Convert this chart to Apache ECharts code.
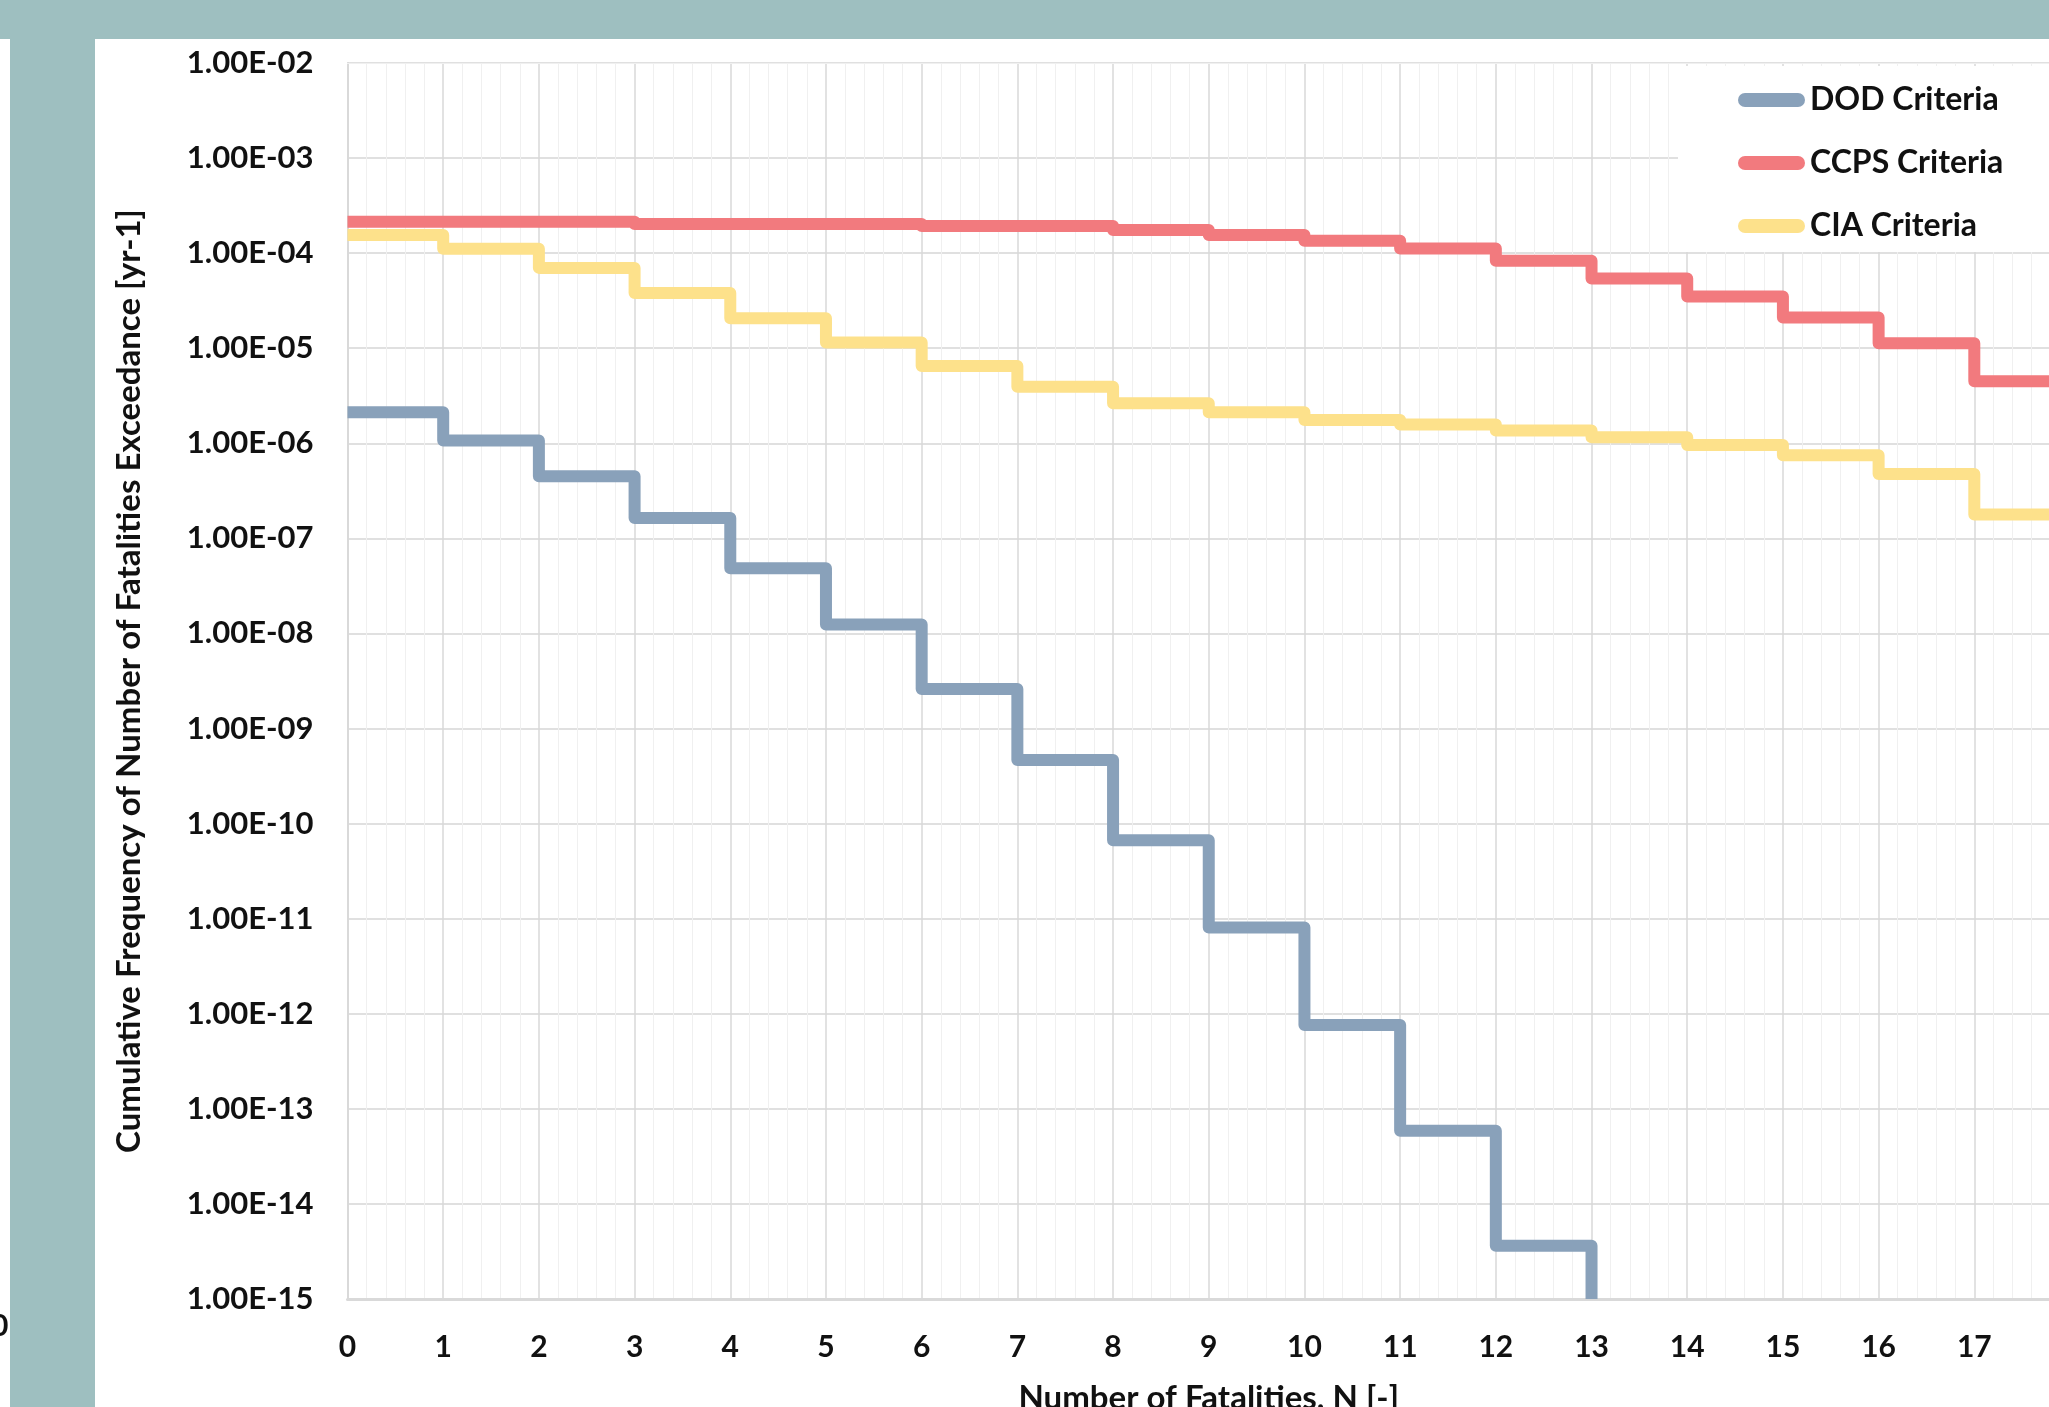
<!DOCTYPE html>
<html><head><meta charset="utf-8">
<script src="https://cdn.jsdelivr.net/npm/echarts@6/dist/echarts.min.js"></script>
<style>html,body{margin:0;padding:0;background:#fff}#c{width:2049px;height:1407px}</style>
</head><body><div id="c"></div>
<script>
// ---- data ----
const fatalities = [0,1,2,3,4,5,6,7,8,9,10,11,12,13,14,15,16,17,18];
const dodCriteria = [2.12e-6,1.07e-6,4.5e-7,1.64e-7,4.84e-8,1.24e-8,2.6e-9,4.67e-10,6.67e-11,8.1e-12,7.6e-13,5.9e-14,3.63e-15,1e-15];
const ccpsCriteria = [2.14e-4,2.14e-4,2.14e-4,2.03e-4,2.03e-4,2.03e-4,1.93e-4,1.93e-4,1.75e-4,1.55e-4,1.35e-4,1.12e-4,8.3e-5,5.4e-5,3.5e-5,2.1e-5,1.13e-5,4.5e-6,4.5e-6];
const ciaCriteria = [1.55e-4,1.11e-4,7.0e-5,3.8e-5,2.07e-5,1.15e-5,6.5e-6,3.94e-6,2.64e-6,2.12e-6,1.76e-6,1.58e-6,1.36e-6,1.16e-6,9.6e-7,7.5e-7,4.75e-7,1.78e-7,1.78e-7];
const seriesNames = ['DOD Criteria','CCPS Criteria','CIA Criteria'];
const seriesColors = ['#89a1ba','#f27a7e','#fde18b'];
const yTickValues = [1e-15,1e-14,1e-13,1e-12,1e-11,1e-10,1e-9,1e-8,1e-7,1e-6,1e-5,1e-4,1e-3,1e-2];
const yTickLabels = ['1.00E-15','1.00E-14','1.00E-13','1.00E-12','1.00E-11','1.00E-10','1.00E-09','1.00E-08','1.00E-07','1.00E-06','1.00E-05','1.00E-04','1.00E-03','1.00E-02'];
const xTitle = 'Number of Fatalities, N [-]';
const yTitle = 'Cumulative Frequency of Number of Fatalities Exceedance [yr-1]';

// minor log gridline positions (2..9 x 10^n)
const minorLogLines = [];
for (let n = -15; n <= -3; n++) for (let k = 2; k <= 9; k++) minorLogLines.push({yAxis: k * Math.pow(10, n)});

const FONT = 'Lato, "Open Sans", sans-serif';
const chart = echarts.init(document.getElementById('c'), null, {renderer: 'canvas'});
const pairs = arr => arr.map((v, i) => [fatalities[i], v]);
const mk = (name, arr, color) => ({
  name, type: 'line', step: 'end', data: pairs(arr), showSymbol: false, symbol: 'none',
  lineStyle: {width: 12, color, cap: 'butt', join: 'round'}, itemStyle: {color}, z: 5, clip: true
});

chart.setOption({
  animation: false,
  backgroundColor: '#ffffff',
  graphic: [
    {type: 'rect', left: 0, top: 0, shape: {width: 2049, height: 39}, style: {fill: '#9ebfc0'}, silent: true},
    {type: 'rect', left: 10, top: 39, shape: {width: 85, height: 1368}, style: {fill: '#9ebfc0'}, silent: true},
    {type: 'text', left: -9, top: 1311, style: {text: '0', font: 'bold 30px ' + FONT, fill: '#111'}, silent: true}
  ],
  grid: {left: 347.5, right: -21, top: 63, bottom: 108, containLabel: false, outerBoundsMode: 'none'},
  legend: {
    data: seriesNames, orient: 'vertical', left: 1678, top: 66,
    padding: [16, 400, 8, 60], itemGap: 27, itemWidth: 67, itemHeight: 14,
    icon: 'path://M7,0H60A7,7 0 0 1 60,14H7A7,7 0 0 1 7,0Z',
    backgroundColor: '#ffffff', selectedMode: false,
    textStyle: {fontFamily: FONT, fontWeight: 'bold', fontSize: 32, color: '#111', lineHeight: 36}
  },
  xAxis: {
    type: 'value', min: 0, max: 18, interval: 1,
    name: xTitle, nameLocation: 'middle', nameGap: 83,
    nameTextStyle: {fontFamily: FONT, fontWeight: 'bold', fontSize: 33, color: '#111'},
    axisLine: {show: true, lineStyle: {color: '#d9d9d9', width: 3}},
    axisTick: {show: false},
    axisLabel: {margin: 33, fontFamily: FONT, fontWeight: 'bold', fontSize: 30, color: '#111',
      formatter: v => String(fatalities[Math.round(v)])},
    splitLine: {show: true, lineStyle: {color: '#d9d9d9', width: 1.5}},
    minorTick: {show: false, splitNumber: 5},
    minorSplitLine: {show: true, lineStyle: {color: '#f0f0f0', width: 1}}
  },
  yAxis: {
    type: 'log', logBase: 10, min: 1e-15, max: 1e-2, interval: 1, splitNumber: 13,
    name: yTitle, nameLocation: 'middle', nameGap: 202,
    nameTextStyle: {fontFamily: FONT, fontWeight: 'bold', fontSize: 33, color: '#111'},
    axisLine: {show: true, lineStyle: {color: '#d9d9d9', width: 2}},
    axisTick: {show: false},
    axisLabel: {margin: 34, fontFamily: FONT, fontWeight: 'bold', fontSize: 31, color: '#111',
      formatter: v => { let best = 0; yTickValues.forEach((t, i) => { if (Math.abs(Math.log10(t) - Math.log10(v)) < Math.abs(Math.log10(yTickValues[best]) - Math.log10(v))) best = i; }); return yTickLabels[best]; }},
    splitLine: {show: true, lineStyle: {color: '#e0e0e0', width: 2}},
    minorTick: {show: false}, minorSplitLine: {show: false}
  },
  series: [
    {type: 'line', name: '__minor', data: [], silent: true, z: 1,
      markLine: {silent: true, symbol: 'none', label: {show: false}, animation: false,
        lineStyle: {color: '#f0f0f0', width: 1, type: 'solid'}, emphasis: {disabled: true}, data: minorLogLines}},
    mk(seriesNames[0], dodCriteria, seriesColors[0]),
    mk(seriesNames[1], ccpsCriteria, seriesColors[1]),
    mk(seriesNames[2], ciaCriteria, seriesColors[2])
  ]
});
</script></body></html>
